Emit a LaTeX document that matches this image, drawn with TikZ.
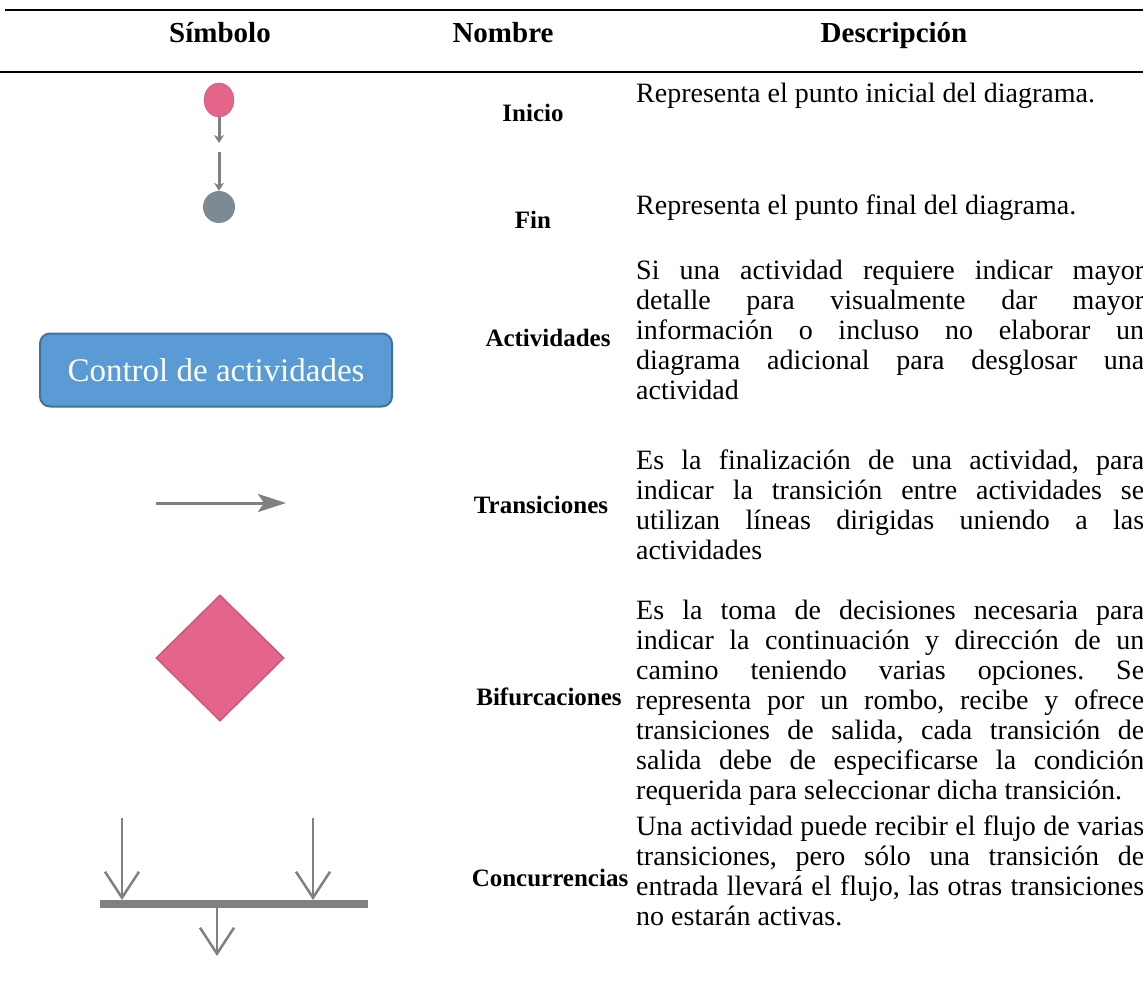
\documentclass[tikz,border=0pt]{standalone}
\usepackage{fontspec}
\setmainfont{Liberation Serif}
\usetikzlibrary{arrows.meta,shapes.geometric,calc}
\definecolor{rosa}{RGB}{229,101,138}
\definecolor{rosaborde}{RGB}{205,88,122}
\definecolor{grisfin}{RGB}{125,138,148}
\definecolor{gris}{RGB}{128,128,128}
\definecolor{azul}{RGB}{91,155,213}
\definecolor{azulborde}{RGB}{65,113,156}
\tikzset{
  titulo/.style={anchor=base,font=\fontsize{29}{32}\selectfont\bfseries},
  nombre/.style={font=\fontsize{25}{30}\selectfont\bfseries},
  desc/.style={anchor=north west,inner sep=0pt,text width=508pt,align=justify,
    font=\fontsize{28}{30}\selectfont\frenchspacing},
  flecha/.style={gris,line width=3pt,-{Stealth[length=28pt,width=18pt,inset=6pt]}},
  abierta/.style={gris,line width=2.5pt,
    -{Straight Barb[length=26pt,width=34pt,line width=2.5pt]}},
}
\begin{document}
\begin{tikzpicture}[x=1pt,y=-1pt]
\useasboundingbox (0,0) rectangle (1143,1000);
% cabecera
\draw[line width=2.5pt] (5,10) -- (1143,10);
\node[titulo] (hsim) at (220,43) {Símbolo};
\node[titulo] (hnom) at (503,43) {Nombre};
\node[titulo] (hdes) at (894,43) {Descripción};
\draw[line width=2pt] (0,72) -- (1143,72);
% inicio
\node[ellipse,fill=rosa,draw=rosaborde,minimum width=30pt,minimum height=34pt,
  inner sep=0pt] (ini) at (219,100) {};
\coordinate (inif) at (219,143);
\draw[gris,line width=3pt,-{Stealth[length=8pt,width=10pt]}] (ini) -- (inif);
\node[nombre] (nini) at (533,113) {Inicio};
\node[desc] (dini) at (636,83) {Representa el punto inicial del diagrama.};
% fin
\node[circle,fill=grisfin,minimum size=32pt,inner sep=0pt] (fin) at (219,207) {};
\coordinate (fini) at (219,152);
\draw[gris,line width=3pt,-{Stealth[length=8pt,width=10pt]}] (fini) -- (fin);
\node[nombre] (nfin) at (533,220) {Fin};
\node[desc] (dfin) at (636,195) {Representa el punto final del diagrama.};
% actividades
\node[draw=azulborde,fill=azul,line width=2pt,rounded corners=10pt,
  minimum width=352pt,minimum height=73pt,text=white,
  font=\fontsize{33}{38}\selectfont] (act) at (216,370) {Control de actividades};
\node[nombre] (nact) at (548,338) {Actividades};
\node[desc] (dact) at (636,260) {Si una actividad requiere indicar mayor\linebreak
  detalle para visualmente dar mayor\linebreak
  información o incluso no elaborar un\linebreak
  diagrama adicional para desglosar una\linebreak
  actividad};
% transiciones
\coordinate (tra1) at (156,503);
\coordinate (tra2) at (286,503);
\draw[flecha] (tra1) -- (tra2);
\node[nombre] (ntra) at (541,505) {Transiciones};
\node[desc] (dtra) at (636,450) {Es la finalización de una actividad, para\linebreak
  indicar la transición entre actividades se\linebreak
  utilizan líneas dirigidas uniendo a las\linebreak
  actividades};
% bifurcaciones
\node[diamond,fill=rosa,draw=rosaborde,line width=1.5pt,minimum width=128pt,
  minimum height=126pt,inner sep=0pt] (bif) at (220,658) {};
\node[nombre] (nbif) at (549,697) {Bifurcaciones};
\node[desc] (dbif) at (636,600) {Es la toma de decisiones necesaria para\linebreak
  indicar la continuación y dirección de un\linebreak
  camino teniendo varias opciones. Se\linebreak
  representa por un rombo, recibe y ofrece\linebreak
  transiciones de salida, cada transición de\linebreak
  salida debe de especificarse la condición\linebreak
  requerida para seleccionar dicha transición.};
% concurrencias
\draw[gris,line width=8pt] (100,904) coordinate (bar1) -- (368,904) coordinate (bar2);
\coordinate (con1) at (122,818);
\coordinate (con2) at (313,818);
\coordinate (con1b) at (122,900);
\coordinate (con2b) at (313,900);
\coordinate (con3) at (217,908);
\coordinate (con3b) at (217,956);
\draw[abierta] (con1) -- (con1b);
\draw[abierta] (con2) -- (con2b);
\draw[abierta] (con3) -- (con3b);
\node[nombre] (ncon) at (550,878) {Concurrencias};
\node[desc] (dcon) at (636,816) {Una actividad puede recibir el flujo de varias\linebreak
  transiciones, pero sólo una transición de\linebreak
  entrada llevará el flujo, las otras transiciones\linebreak
  no estarán activas.};
\end{tikzpicture}
\end{document}
